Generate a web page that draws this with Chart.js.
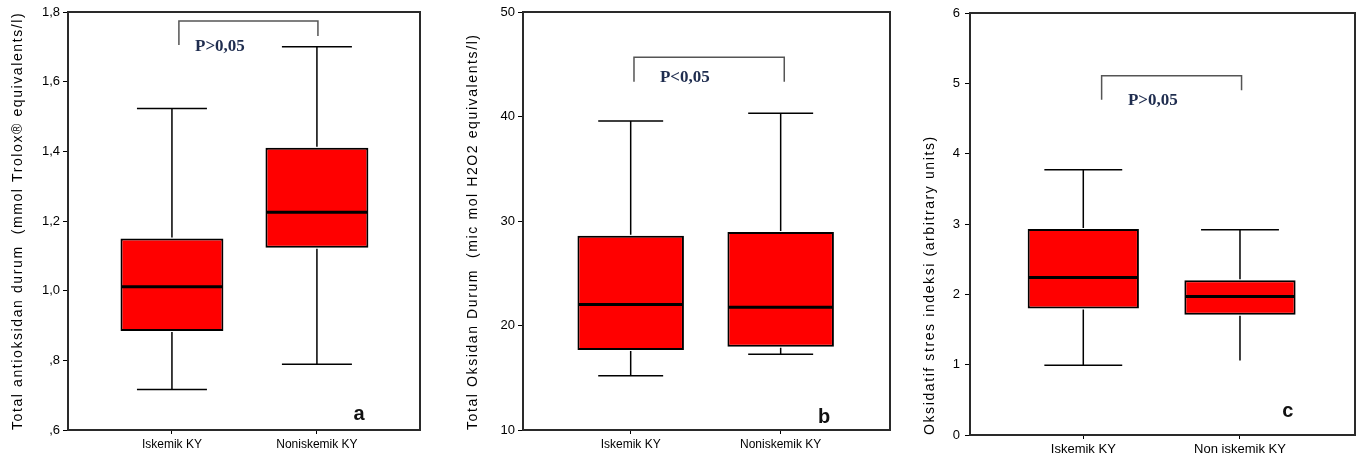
<!DOCTYPE html>
<html>
<head>
<meta charset="utf-8">
<script src="https://cdn.jsdelivr.net/npm/chart.js@4.4.1/dist/chart.umd.min.js"></script>
<style>
    html, body { margin: 0; padding: 0; background: #fff; }
    #wrap { position: relative; width: 1365px; height: 462px; overflow: hidden; }
    .panel { position: absolute; top: 0; width: 455px; height: 462px; }
</style>
</head>
<body>
<div id="wrap">
    <div class="panel" style="left:0"><canvas id="chartA" width="455" height="462"></canvas></div>
    <div class="panel" style="left:455px"><canvas id="chartB" width="455" height="462"></canvas></div>
    <div class="panel" style="left:910px"><canvas id="chartC" width="455" height="462"></canvas></div>
</div>
<script>
// ---- Gruplar ----
const groupsAB = ['Iskemik KY', 'Noniskemik KY'];
const groupsC  = ['Iskemik KY', 'Non iskemik KY'];

// ---- a: Total antioksidan durum ----
const tasMin    = [0.716, 0.789];
const tasQ1     = [0.884, 1.123];
const tasMedian = [1.011, 1.225];
const tasQ3     = [1.150, 1.410];
const tasMax    = [1.523, 1.700];
const tasTickValues = [0.6, 0.8, 1.0, 1.2, 1.4, 1.6, 1.8];
const tasTickLabels = [',6', ',8', '1,0', '1,2', '1,4', '1,6', '1,8'];

// ---- b: Total oksidan durum ----
const tosMin    = [15.2, 17.24];
const tosQ1     = [17.66, 17.97];
const tosMedian = [22.0, 21.74];
const tosQ3     = [28.6, 28.95];
const tosMax    = [39.57, 40.3];
const tosTickValues = [10, 20, 30, 40, 50];
const tosTickLabels = ['10', '20', '30', '40', '50'];

// ---- c: Oksidatif stres indeksi ----
const osiMin    = [0.99, 1.06];
const osiQ1     = [1.80, 1.71];
const osiMedian = [2.24, 1.97];
const osiQ3     = [2.93, 2.20];
const osiMax    = [3.77, 2.92];
const osiTickValues = [0, 1, 2, 3, 4, 5, 6];
const osiTickLabels = ['0', '1', '2', '3', '4', '5', '6'];

const FONT_SANS  = '"Liberation Sans", Arial, sans-serif';
const FONT_SERIF = '"Liberation Serif", "Times New Roman", serif';

// ---- Plugin: kutu grafiği ekleri (bıyık, medyan, çerçeve, metinler) ----
const makeExtras = (p) => ({
    id: 'boxExtras',
    afterDatasetsDraw(chart) {
        const {ctx, chartArea: area, scales: {x, y}} = chart;
        const meta = chart.getDatasetMeta(0);
        ctx.save();

        // bıyıklar + medyan
        meta.data.forEach((bar, i) => {
            const cx = bar.x;
            const half = bar.width / 2;
            const capHalf = half * p.capRatio;
            const pMax = y.getPixelForValue(p.max[i]);
            const pMin = y.getPixelForValue(p.min[i]);
            ctx.strokeStyle = '#000';
            ctx.lineWidth = 1.5;
            ctx.beginPath();
            ctx.moveTo(cx, y.getPixelForValue(p.q3[i]) - 1);
            ctx.lineTo(cx, pMax);
            ctx.moveTo(cx - capHalf, pMax);
            ctx.lineTo(cx + capHalf, pMax);
            ctx.moveTo(cx, y.getPixelForValue(p.q1[i]) + 1);
            ctx.lineTo(cx, pMin);
            if (p.lowCap[i]) {
                ctx.moveTo(cx - capHalf, pMin);
                ctx.lineTo(cx + capHalf, pMin);
            }
            ctx.stroke();

            const pMed = y.getPixelForValue(p.median[i]);
            ctx.lineWidth = 3;
            ctx.beginPath();
            ctx.moveTo(cx - half + 1, pMed);
            ctx.lineTo(cx + half - 1, pMed);
            ctx.stroke();
        });

        // çerçeve
        ctx.strokeStyle = '#2a2a2a';
        ctx.lineWidth = 2;
        ctx.strokeRect(area.left, area.top, area.right - area.left, area.bottom - area.top);

        // p değeri köşeli parantezi
        const b = p.bracket;
        ctx.strokeStyle = '#555';
        ctx.lineWidth = 1.5;
        ctx.beginPath();
        ctx.moveTo(x.getPixelForValue(b.x1), y.getPixelForValue(b.y1));
        ctx.lineTo(x.getPixelForValue(b.x1), y.getPixelForValue(b.top));
        ctx.lineTo(x.getPixelForValue(b.x2), y.getPixelForValue(b.top));
        ctx.lineTo(x.getPixelForValue(b.x2), y.getPixelForValue(b.y2));
        ctx.stroke();

        ctx.fillStyle = '#1f2d4f';
        ctx.font = 'bold 17px ' + FONT_SERIF;
        ctx.textAlign = 'left';
        ctx.textBaseline = 'middle';
        ctx.fillText(p.pText, x.getPixelForValue(p.pPos[0]), y.getPixelForValue(p.pPos[1]));

        // panel harfi
        ctx.fillStyle = '#111';
        ctx.font = 'bold 20px ' + FONT_SANS;
        ctx.textAlign = 'center';
        ctx.textBaseline = 'alphabetic';
        ctx.fillText(p.letter, x.getPixelForValue(p.letterPos[0]), y.getPixelForValue(p.letterPos[1]));

        // y ekseni başlığı
        ctx.translate(p.titleX, area.bottom);
        ctx.rotate(-Math.PI / 2);
        ctx.fillStyle = '#000';
        ctx.font = '14px ' + FONT_SANS;
        ctx.letterSpacing = '1.6px';
        ctx.textAlign = 'left';
        ctx.textBaseline = 'middle';
        ctx.fillText(p.title, 0, 0);

        ctx.restore();
    }
});

function buildPanel(id, p) {
    const el = document.getElementById(id);
    new Chart(el.getContext('2d'), {
        type: 'bar',
        data: {
            datasets: [{
                data: p.groups.map((g, i) => ({x: i, y: [p.q1[i], p.q3[i]]})),
                backgroundColor: '#ff0000',
                borderColor: '#000',
                borderWidth: 2,
                borderSkipped: false,
                barPercentage: 0.71,
                categoryPercentage: 1.0,
            }]
        },
        options: {
            responsive: false,
            animation: false,
            layout: { padding: { left: 0, top: p.padTop, right: p.padRight, bottom: 0 } },
            plugins: { legend: { display: false }, tooltip: { enabled: false } },
            scales: {
                x: {
                    type: 'linear',
                    offset: false,
                    min: p.xMin,
                    max: p.xMax,
                    afterBuildTicks: (scale) => { scale.ticks = p.groups.map((g, i) => ({value: i})); },
                    afterFit: (scale) => { scale.height = p.xHeight; },
                    grid: { offset: false, drawOnChartArea: false, tickLength: 4, color: '#000' },
                    border: { display: false },
                    ticks: {
                        autoSkip: false,
                        maxRotation: 0,
                        padding: 3,
                        color: '#000',
                        font: { family: FONT_SANS, size: p.xFontSize },
                        callback: (v, i) => p.groups[i],
                    }
                },
                y: {
                    min: p.yMin,
                    max: p.yMax,
                    afterBuildTicks: (scale) => { scale.ticks = p.tickValues.map(v => ({value: v})); },
                    afterFit: (scale) => { scale.width = p.yWidth; },
                    grid: { drawOnChartArea: false, tickLength: 5, color: '#000' },
                    border: { display: false },
                    ticks: {
                        padding: p.yTickPad,
                        color: '#000',
                        font: { family: FONT_SANS, size: 13 },
                        callback: (v, i) => p.tickLabels[i],
                    }
                }
            }
        },
        plugins: [makeExtras(p)]
    });
}

buildPanel('chartA', {
    groups: groupsAB, min: tasMin, q1: tasQ1, median: tasMedian, q3: tasQ3, max: tasMax,
    tickValues: tasTickValues, tickLabels: tasTickLabels,
    yMin: 0.6, yMax: 1.8, xMin: -0.717, xMax: 1.711,
    yWidth: 68, xHeight: 32, padTop: 12, padRight: 35, yTickPad: 3, xFontSize: 12,
    capRatio: 0.68, lowCap: [true, true],
    bracket: { x1: 0.048, y1: 1.705, top: 1.774, x2: 1.007, y2: 1.731 },
    pText: 'P>0,05', pPos: [0.159, 1.702],
    letter: 'a', letterPos: [1.29, 0.628],
    title: 'Total antioksidan durum  (mmol Trolox® equivalents/l)', titleX: 18,
});

buildPanel('chartB', {
    groups: groupsAB, min: tosMin, q1: tosQ1, median: tosMedian, q3: tosQ3, max: tosMax,
    tickValues: tosTickValues, tickLabels: tosTickLabels,
    yMin: 10, yMax: 50, xMin: -0.718, xMax: 1.729,
    yWidth: 68, xHeight: 32, padTop: 12, padRight: 20, yTickPad: 3, xFontSize: 12,
    capRatio: 0.61, lowCap: [true, true],
    bracket: { x1: 0.022, y1: 43.33, top: 45.66, x2: 1.024, y2: 43.33 },
    pText: 'P<0,05', pPos: [0.195, 43.7],
    letter: 'b', letterPos: [1.29, 10.7],
    title: 'Total Oksidan Durum  (mic mol H2O2 equivalents/l)', titleX: 18,
});

buildPanel('chartC', {
    groups: groupsC, min: osiMin, q1: osiQ1, median: osiMedian, q3: osiQ3, max: osiMax,
    tickValues: osiTickValues, tickLabels: osiTickLabels,
    yMin: 0, yMax: 6, xMin: -0.723, xMax: 1.734,
    yWidth: 60, xHeight: 27, padTop: 13, padRight: 10, yTickPad: 5, xFontSize: 13,
    capRatio: 0.7, lowCap: [true, false],
    bracket: { x1: 0.117, y1: 4.767, top: 5.108, x2: 1.01, y2: 4.9 },
    pText: 'P>0,05', pPos: [0.285, 4.75],
    letter: 'c', letterPos: [1.306, 0.26],
    title: 'Oksidatif stres indeksi (arbitrary units)', titleX: 20,
});
</script>
</body>
</html>
